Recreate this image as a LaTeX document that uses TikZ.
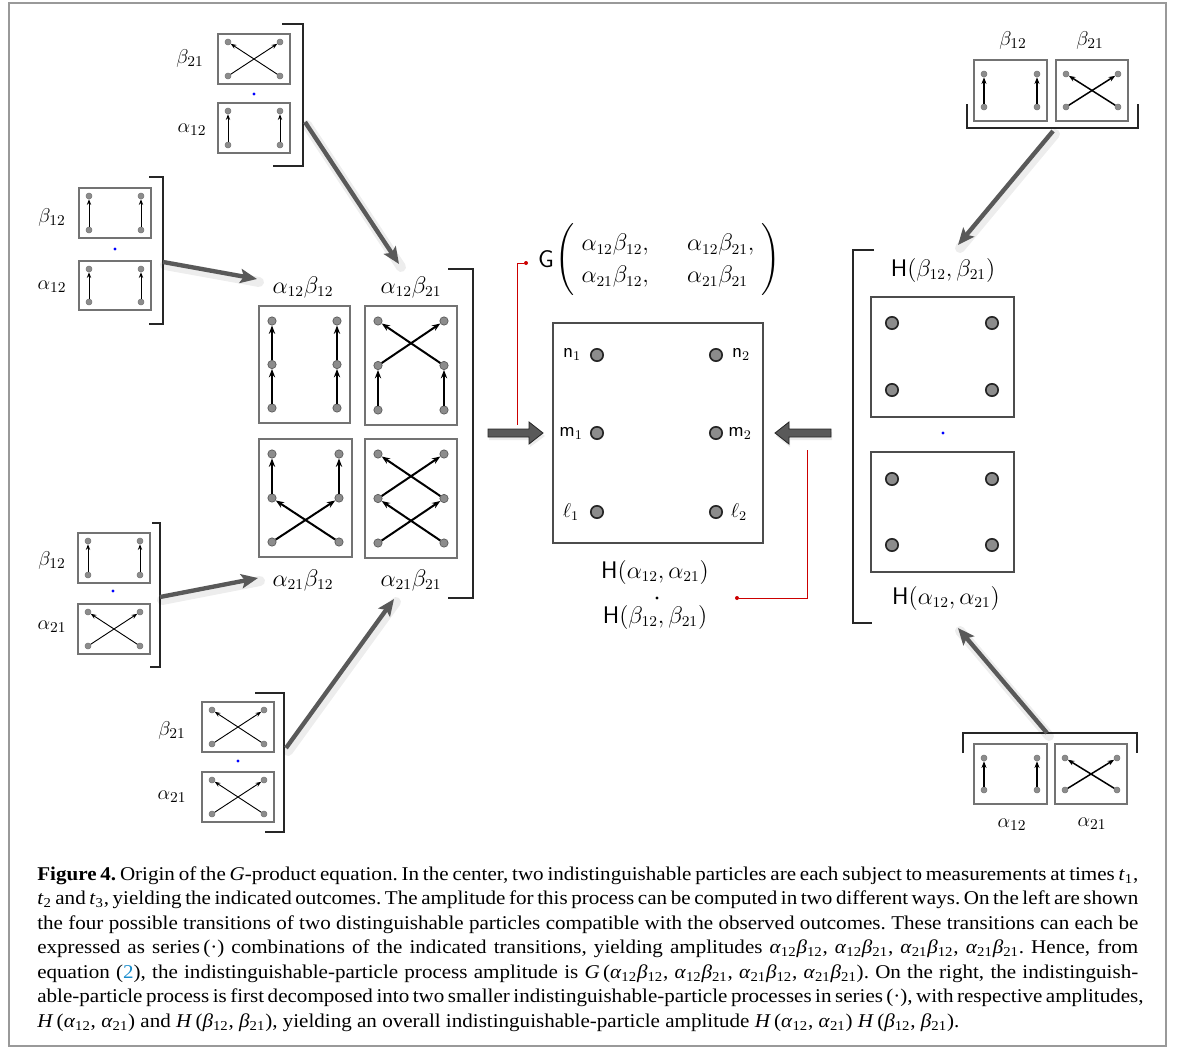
\documentclass[tikz,border=0pt]{standalone}
\usepackage[no-math]{fontspec}
\usepackage{amsmath}
\usetikzlibrary{arrows.meta,calc}
\newfontfamily\capfont{Liberation Serif}[FakeStretch=1.08]
\newcommand{\ca}[1]{\textit{α}\textsubscript{#1}}
\newcommand{\cb}[1]{\textit{β}\textsubscript{#1}}
\tikzset{
 x=0.6pt, y=-0.6pt,
 sframe/.style={draw=black!55, line width=0.8pt},
 sdot/.style={circle, fill=black!45, draw=black!55, line width=0.3pt, inner sep=0, minimum size=3.6pt},
 sarr/.style={-{Stealth[length=3.4pt,width=2.6pt]}, line width=0.55pt},
 gdot/.style={circle, fill=black!45, draw=black!65, line width=0.4pt, inner sep=0, minimum size=5pt},
 garr/.style={-{Stealth[length=5pt,width=3.8pt]}, line width=1.2pt},
 bdot/.style={circle, fill=black!45, draw=black!85, line width=1pt, inner sep=0, minimum size=7.4pt},
 bframe/.style={draw=black!70, line width=1.2pt},
 brk/.style={draw=black!85, line width=0.9pt},
 bigarrow/.style={draw=black!65, line width=2.6pt, -{Stealth[length=10pt,width=8.5pt,inset=2pt]}},
 arrshadow/.style={draw=black, opacity=0.07, line width=6pt, line cap=round},
 fat/.style={fill=black!65, draw=black!85, line width=0.5pt},
 redl/.style={draw=red!80!black, line width=0.6pt},
 bluedot/.style={circle, fill=blue, inner sep=0, minimum size=2pt},
 lab/.style={font=\fontsize{13.5}{16}\selectfont, inner sep=0},
 slab/.style={font=\fontsize{12.5}{15}\selectfont, inner sep=0},
 nlab/.style={font=\fontsize{12}{14}\selectfont, inner sep=0},
}
% small two-row box: name, x1, y1, x2, y2, inset x, inset y, kind (p = parallel, c = cross)
\newcommand{\smbox}[8]{%
  \draw[sframe] (#2,#3) rectangle (#4,#5);
  \node[sdot] (#1tl) at ({#2+#6},{#3+#7}) {};
  \node[sdot] (#1tr) at ({#4-#6},{#3+#7}) {};
  \node[sdot] (#1bl) at ({#2+#6},{#5-#7}) {};
  \node[sdot] (#1br) at ({#4-#6},{#5-#7}) {};
  \ifx p#8
    \draw[sarr] (#1bl) -- (#1tl); \draw[sarr] (#1br) -- (#1tr);
  \else
    \draw[sarr] (#1bl) -- (#1tr); \draw[sarr] (#1br) -- (#1tl);
  \fi
}
% three-row grid box: name, x1, y1, x2, y2
\newcommand{\grbox}[5]{%
  \draw[sframe] (#2,#3) rectangle (#4,#5);
  \node[gdot] (#1tl) at ({#2+13},{#3+15}) {};
  \node[gdot] (#1tr) at ({#4-13},{#3+15}) {};
  \node[gdot] (#1ml) at ({#2+13},{(#3+#5)/2}) {};
  \node[gdot] (#1mr) at ({#4-13},{(#3+#5)/2}) {};
  \node[gdot] (#1bl) at ({#2+13},{#5-15}) {};
  \node[gdot] (#1br) at ({#4-13},{#5-15}) {};
}
% grey arrow with soft shadow: start, end
\newcommand{\greyarrow}[2]{%
  \draw[arrshadow] ($(#1)+(2,3)$) -- ($(#2)+(2,3)$);
  \draw[bigarrow] (#1) -- (#2);
}
\begin{document}
\begin{tikzpicture}
\useasboundingbox (0,0) rectangle (1182,1052);
\draw[draw=black!40, line width=1.2pt] (9,3) rectangle (1166,1046);

% ---------- left small groups ----------
\smbox{tlb}{218}{34}{290}{84}{10}{8}{c}
\smbox{tla}{218}{103}{290}{153}{10}{8}{p}
\node[bluedot] (tlbd) at (254,94) {};
\node[slab] (tlbl) at (190,58) {$\beta_{21}$};
\node[slab] (tlal) at (192,130) {$\alpha_{12}$};
\draw[brk] (282,24) -- (303,24) -- (303,166) -- (273,166);

\smbox{mlb}{79}{188}{151}{238}{10}{8}{p}
\smbox{mla}{79}{261}{151}{310}{10}{8}{p}
\node[bluedot] (mlbd) at (115,249) {};
\node[slab] (mlbl) at (52,217) {$\beta_{12}$};
\node[slab] (mlal) at (52,287) {$\alpha_{12}$};
\draw[brk] (149,177) -- (163,177) -- (163,324) -- (149,324);

\smbox{blb}{78}{533}{150}{583}{10}{8}{p}
\smbox{bla}{78}{604}{150}{654}{10}{8}{c}
\node[bluedot] (blbd) at (113,591) {};
\node[slab] (blbl) at (52,560) {$\beta_{12}$};
\node[slab] (blal) at (52,627) {$\alpha_{21}$};
\draw[brk] (152,523) -- (160,523) -- (160,667) -- (150,667);

\smbox{bbb}{202}{702}{274}{752}{10}{8}{c}
\smbox{bba}{202}{772}{274}{822}{10}{8}{c}
\node[bluedot] (bbbd) at (238,761) {};
\node[slab] (bbbl) at (172,730) {$\beta_{21}$};
\node[slab] (bbal) at (172,797) {$\alpha_{21}$};
\draw[brk] (255,693) -- (284,693) -- (284,832) -- (265,832);

% ---------- grid of four transitions ----------
\grbox{A}{259}{306}{350}{423}
\draw[garr] (Abl) -- (Aml); \draw[garr] (Aml) -- (Atl);
\draw[garr] (Abr) -- (Amr); \draw[garr] (Amr) -- (Atr);
\grbox{B}{365}{306}{457}{425}
\draw[garr] (Bbl) -- (Bml); \draw[garr] (Bbr) -- (Bmr);
\draw[garr] (Bml) -- (Btr); \draw[garr] (Bmr) -- (Btl);
\grbox{C}{259}{439}{352}{557}
\draw[garr] (Cbl) -- (Cmr); \draw[garr] (Cbr) -- (Cml);
\draw[garr] (Cml) -- (Ctl); \draw[garr] (Cmr) -- (Ctr);
\grbox{D}{365}{439}{457}{558}
\draw[garr] (Dbl) -- (Dmr); \draw[garr] (Dbr) -- (Dml);
\draw[garr] (Dml) -- (Dtr); \draw[garr] (Dmr) -- (Dtl);
\node[lab] (Al) at (303,287) {$\alpha_{12}\beta_{12}$};
\node[lab] (Bl) at (411,287) {$\alpha_{12}\beta_{21}$};
\node[lab] (Cl) at (303,580) {$\alpha_{21}\beta_{12}$};
\node[lab] (Dl) at (411,580) {$\alpha_{21}\beta_{21}$};
\draw[brk] (448,269) -- (473,269) -- (473,598) -- (448,598);

% ---------- grey arrows from left groups ----------
\coordinate (s1) at (305,122); \coordinate (e1) at (399,264);
\coordinate (s2) at (163,262); \coordinate (e2) at (257,279);
\coordinate (s3) at (160,597); \coordinate (e3) at (258,578);
\coordinate (s4) at (286,748); \coordinate (e4) at (394,599);
\greyarrow{s1}{e1}
\greyarrow{s2}{e2}
\greyarrow{s3}{e3}
\greyarrow{s4}{e4}

% ---------- center ----------
\draw[bframe] (553,323) rectangle (763,543);
\node[bdot] (n1) at (597,355) {};
\node[bdot] (n2) at (716,355) {};
\node[bdot] (m1) at (597,433) {};
\node[bdot] (m2) at (716,433) {};
\node[bdot] (l1) at (597,512) {};
\node[bdot] (l2) at (716,512) {};
\node[nlab] (n1l) at (572,354) {\textsf{n}$_1$};
\node[nlab] (n2l) at (741,354) {\textsf{n}$_2$};
\node[nlab] (m1l) at (571,433) {\textsf{m}$_1$};
\node[nlab] (m2l) at (740,433) {\textsf{m}$_2$};
\node[nlab] (l1l) at (571,512) {$\ell_1$};
\node[nlab] (l2l) at (739,512) {$\ell_2$};

\fill[black, opacity=0.08] (489,432) -- (530,432) -- (530,425) -- (545,436) -- (530,447) -- (530,440) -- (489,440) -- cycle;
\fill[black, opacity=0.08] (832,432) -- (790,432) -- (790,425) -- (776,436) -- (790,447) -- (790,440) -- (832,440) -- cycle;
\draw[fat] (488,429) -- (529,429) -- (529,422) -- (543,433) -- (529,444) -- (529,437) -- (488,437) -- cycle;
\draw[fat] (831,429) -- (789,429) -- (789,422) -- (775,433) -- (789,444) -- (789,437) -- (831,437) -- cycle;

\node[lab] (G) at (546,259) {$\mathsf{G}$};
\node[lab] (Gm) at (668,260) {$\renewcommand{\arraystretch}{1.2}\left(\begin{array}{@{\;}l@{\hspace{23pt}}l@{\;}}\alpha_{12}\beta_{12}, & \alpha_{12}\beta_{21},\\ \alpha_{21}\beta_{12}, & \alpha_{21}\beta_{21}\end{array}\right)$};
\node[lab] (H1) at (655,572) {$\mathsf{H}(\alpha_{12},\alpha_{21})$};
\node[circle, fill=black, inner sep=0, minimum size=2pt] (hd) at (657,598) {};
\node[lab] (H2) at (655,617) {$\mathsf{H}(\beta_{12},\beta_{21})$};

\node[circle, fill=red!80!black, inner sep=0, minimum size=2.4pt] (rd1) at (526,263) {};
\coordinate (rc1) at (517,425);
\draw[redl] (rd1) -| (rc1);
\node[circle, fill=red!80!black, inner sep=0, minimum size=2.4pt] (rd2) at (737,598) {};
\coordinate (rc2) at (807,450);
\draw[redl] (rd2) -| (rc2);

% ---------- right side ----------
\draw[bframe] (871,297) rectangle (1014,417);
\node[bdot] (r1a) at (892,323) {};
\node[bdot] (r1b) at (992,323) {};
\node[bdot] (r1c) at (892,390) {};
\node[bdot] (r1d) at (992,390) {};
\node[bluedot] (rbd) at (943,433) {};
\draw[bframe] (871,452) rectangle (1014,572);
\node[bdot] (r2a) at (892,479) {};
\node[bdot] (r2b) at (992,479) {};
\node[bdot] (r2c) at (892,545) {};
\node[bdot] (r2d) at (992,545) {};
\node[lab] (Hr1) at (943,270) {$\mathsf{H}(\beta_{12},\beta_{21})$};
\node[lab] (Hr2) at (946,598) {$\mathsf{H}(\alpha_{12},\alpha_{21})$};
\draw[brk] (874,250) -- (853,250) -- (853,623) -- (872,623);

\begin{scope}[sarr/.style={-{Stealth[length=4pt,width=3pt]}, line width=0.9pt}]
\smbox{trb}{974}{60}{1047}{121}{10}{14}{p}
\smbox{trc}{1056}{60}{1128}{121}{10}{14}{c}
\smbox{bra}{974}{744}{1047}{804}{10}{14}{p}
\smbox{brc}{1055}{744}{1127}{804}{10}{14}{c}
\end{scope}
\node[slab] (trbl) at (1013,40) {$\beta_{12}$};
\node[slab] (trcl) at (1090,40) {$\beta_{21}$};
\node[slab] (bral) at (1012,825) {$\alpha_{12}$};
\node[slab] (brcl) at (1092,824) {$\alpha_{21}$};
\draw[brk] (967,104) -- (967,128) -- (1138,128) -- (1138,104);
\draw[brk] (963,753) -- (963,733) -- (1137,733) -- (1137,753);

\coordinate (s5) at (1053,131); \coordinate (e5) at (958,245);
\coordinate (s6) at (1047,733); \coordinate (e6) at (958,628);
\greyarrow{s5}{e5}
\greyarrow{s6}{e6}

% ---------- caption ----------
\node[anchor=north west, inner sep=0, font=\capfont\fontsize{11.7}{14.7}\selectfont] (cap) at (37,866) {%
\begin{minipage}{660.6pt}\baselineskip=14.7pt\frenchspacing
\hbox to\hsize{\textbf{Figure 4.} Origin of the \textit{G}-product equation. In the center, two indistinguishable particles are each subject to measurements at times \textit{t}\textsubscript{1},}
\hbox to\hsize{\textit{t}\textsubscript{2} and \textit{t}\textsubscript{3}, yielding the indicated outcomes. The amplitude for this process can be computed in two different ways. On the left are shown}
\hbox to\hsize{the four possible transitions of two distinguishable particles compatible with the observed outcomes. These transitions can each be}
\hbox to\hsize{expressed as series\,(·) combinations of the indicated transitions, yielding amplitudes \ca{12}\cb{12}, \ca{12}\cb{21}, \ca{21}\cb{12}, \ca{21}\cb{21}. Hence, from}
\hbox to\hsize{equation (\textcolor[rgb]{0.1,0.55,0.8}{2}), the indistinguishable-particle process amplitude is \textit{G}\,(\ca{12}\cb{12}, \ca{12}\cb{21}, \ca{21}\cb{12}, \ca{21}\cb{21}). On the right, the indistinguish-}
\hbox to\hsize{able-particle process is first decomposed into two smaller indistinguishable-particle processes in series\,(·), with respective amplitudes,}
\hbox to\hsize{\textit{H}\,(\ca{12}, \ca{21}) and \textit{H}\,(\cb{12}, \cb{21}), yielding an overall indistinguishable-particle amplitude \textit{H}\,(\ca{12}, \ca{21}) \textit{H}\,(\cb{12}, \cb{21}).\hfil}
\end{minipage}};
\end{tikzpicture}
\end{document}
